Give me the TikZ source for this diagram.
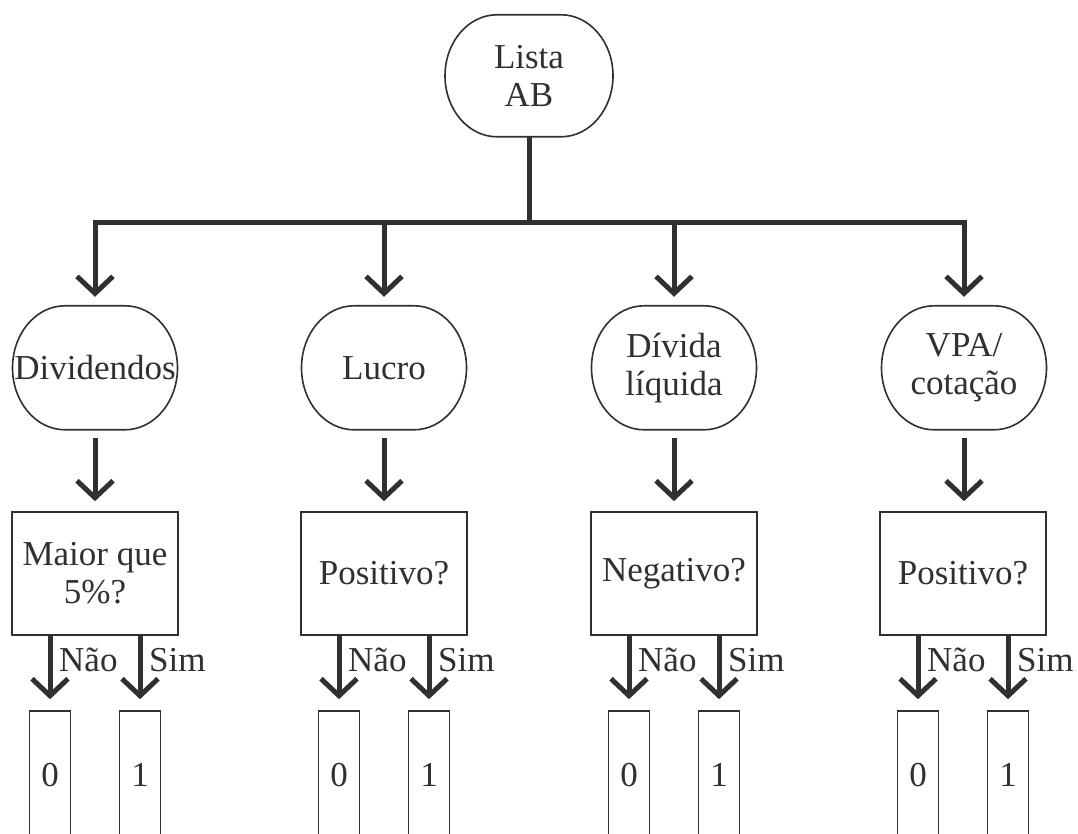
\documentclass[tikz,border=0pt]{standalone}
\usepackage{fontspec}
\setmainfont{Liberation Serif}
\usetikzlibrary{arrows.meta,calc}
\definecolor{ink}{RGB}{48,48,52}
\newcommand\ovaloutline[4]{% node, half flat width, x radius, y radius
  \draw[thinln] (#1.north) ++(-#2,0) -- ++(2*#2,0)
    arc[start angle=90,end angle=-90,x radius=#3,y radius=#4]
    -- ++(-2*#2,0)
    arc[start angle=270,end angle=90,x radius=#3,y radius=#4] -- cycle;}
\tikzset{
  txt/.style={text=ink, font=\fontsize{35}{38}\selectfont, inner sep=0pt, align=center},
  thinln/.style={draw=ink, line width=1.6pt},
  thickln/.style={draw=ink, line width=5pt},
  arr/.style={thickln, -{Straight Barb[length=17pt,width=36pt]}},
  ovalnode/.style={txt, minimum width=165pt, minimum height=124pt},
  decbox/.style={txt, thinln, minimum width=166pt, minimum height=123pt},
  resbox/.style={txt, thinln, minimum width=41pt, minimum height=128pt},
  lbl/.style={txt, anchor=base west},
}
\begin{document}
\begin{tikzpicture}[x=1pt,y=1pt]
\clip (0,0) rectangle (1078,834);
\fill[white] (0,0) rectangle (1078,834);
% top node
\node[txt, minimum width=168pt, minimum height=122pt] (top) at (529,758) {Lista\\AB};
\ovaloutline{top}{32}{52}{61}
\coordinate (bar) at (529,611);
% ovals
\node[ovalnode] (o1) at (95,466) {Dividendos};
\node[ovalnode] (o2) at (384,466) {Lucro};
\node[ovalnode] (o3) at (674,466) {Dívida\\líquida};
\node[ovalnode] (o4) at (964,466) {VPA/\\cotação};
\foreach \n in {o1,o2,o3,o4}{\ovaloutline{\n}{30}{52.5}{62}}
% connectors from top
\draw[thickln] (top.south) -- (bar);
\draw[thickln] (o2 |- bar) -- (o3 |- bar);
\draw[arr, shorten >=9pt] (o2 |- bar) -- (o1 |- bar) -- (o1.north);
\draw[arr, shorten >=9pt] (o3 |- bar) -- (o4 |- bar) -- (o4.north);
\draw[arr, shorten >=9pt] (o2 |- bar) -- (o2.north);
\draw[arr, shorten >=9pt] (o3 |- bar) -- (o3.north);
% decision boxes
\node[decbox] (d1) at (95,260.5) {Maior que\\5\%?};
\node[decbox] (d2) at (384,260.5) {Positivo?};
\node[decbox] (d3) at (674,260.5) {Negativo?};
\node[decbox] (d4) at (963,260.5) {Positivo?};
\foreach \i in {1,2,3,4}{
  \draw[arr, shorten <=8pt, shorten >=10pt] (o\i.south) -- (o\i.south |- d\i.north);
}
% result boxes
\node[resbox] (r1a) at (50,59) {0};
\node[resbox] (r1b) at (140,59) {1};
\node[resbox] (r2a) at (339,59) {0};
\node[resbox] (r2b) at (429,59) {1};
\node[resbox] (r3a) at (629,59) {0};
\node[resbox] (r3b) at (719,59) {1};
\node[resbox] (r4a) at (918,59) {0};
\node[resbox] (r4b) at (1008,59) {1};
\foreach \i in {1,2,3,4}{
  \draw[arr, shorten >=11pt] (d\i.south -| r\i a) -- (r\i a.north);
  \draw[arr, shorten >=11pt] (d\i.south -| r\i b) -- (r\i b.north);
  \node[lbl] (n\i) at ($(r\i a.north)+(9,39)$) {Não};
  \node[lbl] (s\i) at ($(r\i b.north)+(9,39)$) {Sim};
}
\end{tikzpicture}
\end{document}
